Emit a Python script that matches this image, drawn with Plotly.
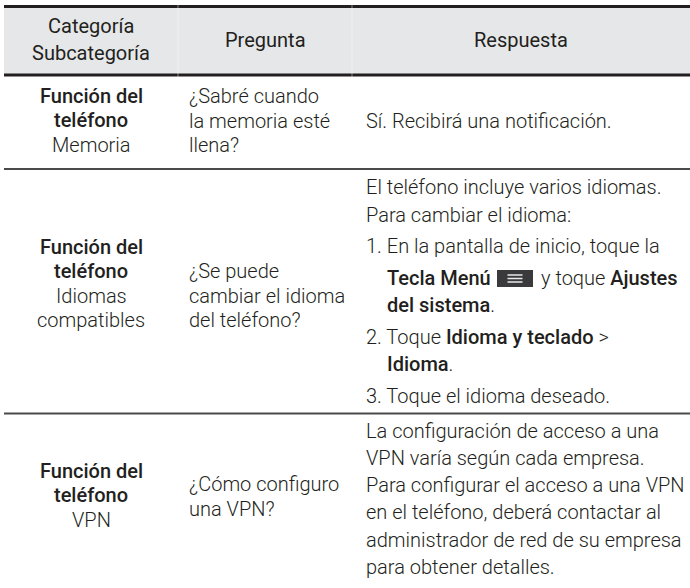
import plotly.graph_objects as go

# ---------------- data (table content) ----------------
header_labels = ["Categoría<br>Subcategoría", "Pregunta", "Respuesta"]

categorias = [["Función del", "teléfono"],
              ["Función del", "teléfono"],
              ["Función del", "teléfono"]]
subcategorias = [["Memoria"],
                 ["Idiomas", "compatibles"],
                 ["VPN"]]
preguntas = [["¿Sabré cuando", "la memoria esté", "llena?"],
             ["¿Se puede", "cambiar el idioma", "del teléfono?"],
             ["¿Cómo configuro", "una VPN?"]]
respuestas = [
    ["Sí. Recibirá una notificación."],
    ["El teléfono incluye varios idiomas.",
     "Para cambiar el idioma:",
     "1. En la pantalla de inicio, toque la",
     "<b>Tecla Menú</b>|MENU|y toque <b>Ajustes</b>",
     "<b>del sistema</b>.",
     "2. Toque <b>Idioma y teclado</b> >",
     "<b>Idioma</b>.",
     "3. Toque el idioma deseado."],
    ["La configuración de acceso a una",
     "VPN varía según cada empresa.",
     "Para configurar el acceso a una VPN",
     "en el teléfono, deberá contactar al",
     "administrador de red de su empresa",
     "para obtener detalles."],
]

# ---------------- layout / style ----------------
W, H = 690, 588
FONT = "Roboto"
SIZE = 20
HEAD_SIZE = 20
TXT = "#231f20"
LIGHT = 300
MED = 500

X_LEFT, X_RIGHT = 4, 690
COL_B = [4, 178, 352, 690]
X_C1 = 91
X_C2 = 187
X_C3 = 364
X_C3_IND = 385
HEAD_TOP, HEAD_BOT = 6.5, 75
ROW_LINES = [169, 413.5]

c1_start = [96, 247, 471]
c1_step = 24.4
c2_start = [96, 271, 484]
c2_step = 24.5
c3_y = [[121],
        [187, 215, 246, 278, 305, 337, 364, 396],
        [431, 457.5, 484.5, 512, 539.5, 567]]
c3_indent = [[0], [0, 0, 0, 1, 1, 0, 1, 0], [0, 0, 0, 0, 0, 0]]
ICON_X = (497, 533)
ICON_Y = (270, 287)
AFTER_ICON_X = 539

fig = go.Figure()
annots = []
shapes = []


def ann(x, y, text, anchor="left", weight=LIGHT, color=TXT, size=SIZE):
    annots.append(dict(x=x, y=y, xref="x", yref="y", text=text, showarrow=False,
                       xanchor=anchor, yanchor="middle", align=anchor,
                       font=dict(family=FONT, size=size, color=color, weight=weight)))


def boldify(t):
    return t.replace("<b>", '<span style="font-weight:500">').replace("</b>", "</span>")


# header background and rules
shapes.append(dict(type="rect", x0=X_LEFT, x1=X_RIGHT, y0=HEAD_TOP, y1=HEAD_BOT,
                   fillcolor="#e6e7e8", line=dict(width=0), layer="below"))
for yy in (HEAD_TOP, HEAD_BOT):
    shapes.append(dict(type="line", x0=X_LEFT, x1=X_RIGHT, y0=yy, y1=yy,
                       line=dict(color="#231f20", width=3), layer="below"))
for xx in COL_B[1:3]:
    shapes.append(dict(type="line", x0=xx, x1=xx, y0=HEAD_TOP - 2, y1=HEAD_BOT + 2,
                       line=dict(color="rgba(255,255,255,0.45)", width=1), layer="below"))
for yy in ROW_LINES:
    shapes.append(dict(type="line", x0=X_LEFT, x1=X_RIGHT, y0=yy, y1=yy,
                       line=dict(color="#4a4a4a", width=2), layer="below"))

# header text
hl = header_labels[0].split("<br>")
ann(X_C1, 26, hl[0], "center", 400, size=HEAD_SIZE)
ann(X_C1, 53, hl[1], "center", 400, size=HEAD_SIZE)
ann((COL_B[1] + COL_B[2]) / 2, 40, header_labels[1], "center", 400, size=HEAD_SIZE)
ann((COL_B[2] + COL_B[3]) / 2 - 0.5, 40, header_labels[2], "center", 400, size=HEAD_SIZE)

for r in range(3):
    lines = [(t, MED) for t in categorias[r]] + [(t, LIGHT) for t in subcategorias[r]]
    for i, (t, w) in enumerate(lines):
        ann(X_C1, c1_start[r] + i * c1_step, t, "center", w)
    for i, t in enumerate(preguntas[r]):
        ann(X_C2, c2_start[r] + i * c2_step, t, "left", LIGHT)
    for i, t in enumerate(respuestas[r]):
        x = X_C3_IND if c3_indent[r][i] else X_C3
        y = c3_y[r][i]
        if "|MENU|" in t:
            left, right = t.split("|MENU|")
            ann(x, y, boldify(left), "left", LIGHT)
            ann(AFTER_ICON_X, y, boldify(right), "left", LIGHT)
            shapes.append(dict(type="rect", x0=ICON_X[0], x1=ICON_X[1], y0=ICON_Y[0], y1=ICON_Y[1],
                               fillcolor="#3a3a3c", line=dict(width=0), layer="below"))
            cx = (ICON_X[0] + ICON_X[1]) / 2
            cy = (ICON_Y[0] + ICON_Y[1]) / 2
            for dy in (-3.5, 0, 3.5):
                shapes.append(dict(type="line", x0=cx - 7.5, x1=cx + 7.5, y0=cy + dy, y1=cy + dy,
                                   line=dict(color="#e8e8e8", width=1.5), layer="below"))
        else:
            ann(x, y, boldify(t), "left", LIGHT)

fig.update_layout(
    width=W, height=H, autosize=False,
    margin=dict(l=0, r=0, t=0, b=0, pad=0),
    paper_bgcolor="white", plot_bgcolor="white",
    xaxis=dict(range=[0, W], visible=False, fixedrange=True),
    yaxis=dict(range=[H, 0], visible=False, fixedrange=True),
    annotations=annots, shapes=shapes, showlegend=False,
)
fig.write_html(
    "out.html",
    config={"displayModeBar": False},
    post_script="document.body.style.margin='0';document.body.style.padding='0';"
                "document.documentElement.style.overflow='hidden';",
)
